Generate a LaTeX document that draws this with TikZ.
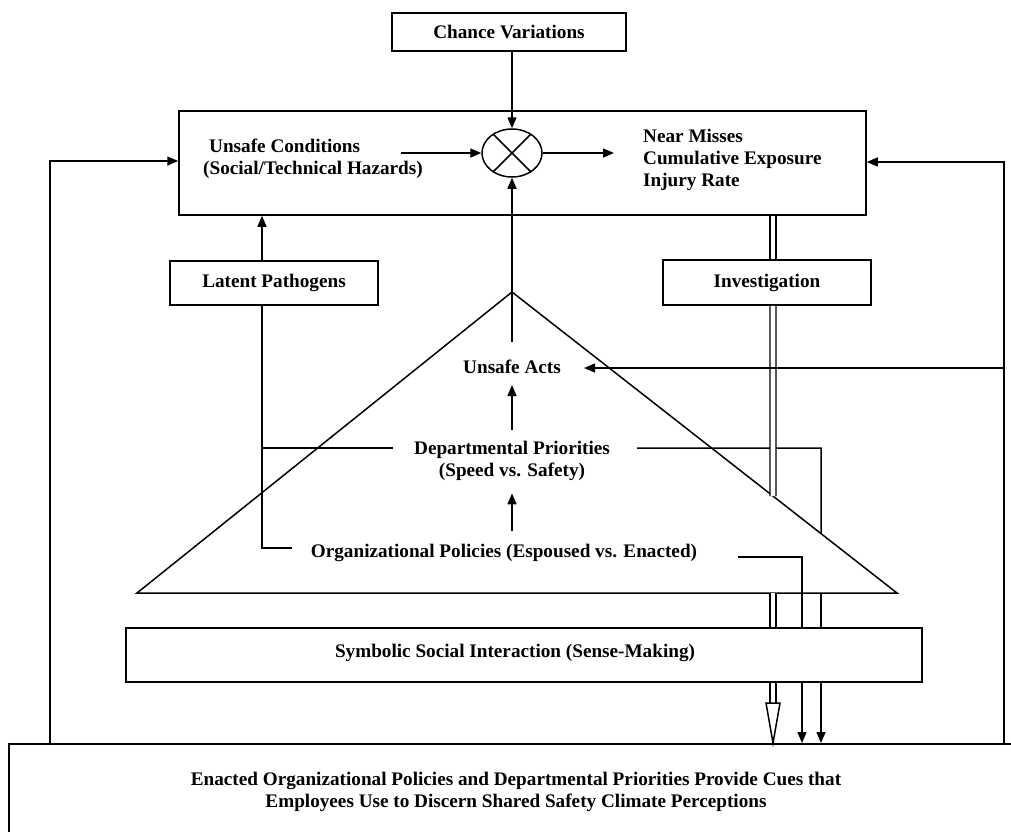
\documentclass[tikz,border=0pt]{standalone}
\usepackage{fontspec}
\setmainfont{Liberation Serif}
\usetikzlibrary{arrows.meta,shapes.geometric,calc}
\begin{document}
\begin{tikzpicture}[x=1pt,y=-1pt,
  lw/.style={line width=1.5pt},
  boxnode/.style={draw,lw,inner sep=0pt},
  txt/.style={font=\fontsize{19.2}{22}\selectfont\bfseries,inner sep=0pt},
  arr/.style={lw,-{Triangle[length=11pt,width=9pt]}},
  dbl/.style={line width=1.3pt,double,double distance=4.6pt}]
\useasboundingbox (0,0) rectangle (1011,831);
\clip (0,0) rectangle (1011,831);
% boxes
\node[boxnode,minimum width=234pt,minimum height=38pt,txt] (chance) at (509,32) {Chance Variations};
\node[boxnode,minimum width=687pt,minimum height=104pt] (top) at (522.5,163) {};
\node[txt,align=left,anchor=west] (uc) at (203,159) {\hspace{6pt}Unsafe Conditions\\(Social/Technical Hazards)};
\node[draw,lw,ellipse,minimum width=60pt,minimum height=48pt,inner sep=0pt] (ot) at (512,153) {};
\draw[lw] (ot.45) -- (ot.225) (ot.135) -- (ot.315);
\node[txt,align=left,anchor=west] (out) at (643,160) {Near Misses\\Cumulative Exposure\\Injury Rate};
\node[boxnode,minimum width=208pt,minimum height=44pt,txt] (latent) at (274,283) {Latent Pathogens};
\node[boxnode,minimum width=208pt,minimum height=45pt,txt] (inv) at (767,282.5) {Investigation};
% triangle
\coordinate (apex) at (512,292);
\coordinate (tl) at (137,593);
\coordinate (tr) at (897,593);
\draw[lw] (apex) -- (tl) -- (tr) -- cycle;
\node[txt] (acts) at (512,367) {Unsafe Acts};
\node[txt,align=center] (dept) at (512,460.5) {Departmental Priorities\\(Speed vs. Safety)};
\node[txt] (org) at (504,553) {Organizational Policies (Espoused vs. Enacted)};
\node[boxnode,minimum width=796pt,minimum height=54pt] (sym) at (524,655) {};
\node[txt] (symt) at (515,653) {Symbolic Social Interaction (Sense-Making)};
\node[draw,lw,minimum width=1030pt,minimum height=110pt,anchor=north west,inner sep=0pt] (bot) at (8,743) {};
\node[txt,align=center] (bott) at (516,792) {Enacted Organizational Policies and Departmental Priorities Provide Cues that\\Employees Use to Discern Shared Safety Climate Perceptions};
% arrows
\draw[arr] (chance.south -| ot.north) -- (ot.north);
\draw[arr] ([xshift=-22pt]uc.east |- ot.west) -- (ot.west);
\draw[arr] (ot.east) -- ([xshift=-29pt]out.west |- ot.east);
\draw[arr] ([yshift=18pt]acts.north) -- (ot.south);
\draw[arr] ([yshift=11pt]dept.north) -- ([yshift=-11pt]acts.south);
\draw[arr] ([yshift=13pt]org.north -| dept.south) -- ([yshift=-13pt]dept.south);
\draw[arr] (latent.north -| 262,0) -- (top.south -| 262,0);
% latent pathogens lines
\draw[lw] (latent.south -| 262,0) -- (262,548) -- (292,548);
\draw[lw] (262,448) -- (393,448);
% departmental line
\draw[lw] (637,448) -- (821,448) -- ($(apex)!0.8026!(tr)$);
\draw[lw] (tr -| 821,0) -- (sym.north -| 821,0);
\draw[arr] (sym.south -| 821,0) -- (bot.north -| 821,0);
% org line
\draw[lw] (738,557) -- (802,557) -- (sym.north -| 802,0);
\draw[arr] (sym.south -| 802,0) -- (bot.north -| 802,0);
% double line
\draw[dbl] (top.south -| 773,0) -- (inv.north -| 773,0);
\draw[dbl] (inv.south -| 773,0) -- ($(apex)!0.678!(tr)$);
\draw[dbl] (tr -| 773,0) -- (sym.north -| 773,0);
\coordinate (ah) at (773,703);
\draw[dbl] (sym.south -| 773,0) -- (ah);
\draw[lw,fill=white] ([xshift=-7pt]ah) -- ([xshift=7pt]ah) -- (bot.north -| 773,0) -- cycle;
% feedback
\draw[arr] (bot.north -| 50,0) -- (50,161) -- (top.west |- 0,161);
\draw[arr] (bot.north -| 1004,0) -- (1004,162) -- (top.east |- 0,162);
\draw[arr] (1004,368) -- (584,368);
\end{tikzpicture}
\end{document}
